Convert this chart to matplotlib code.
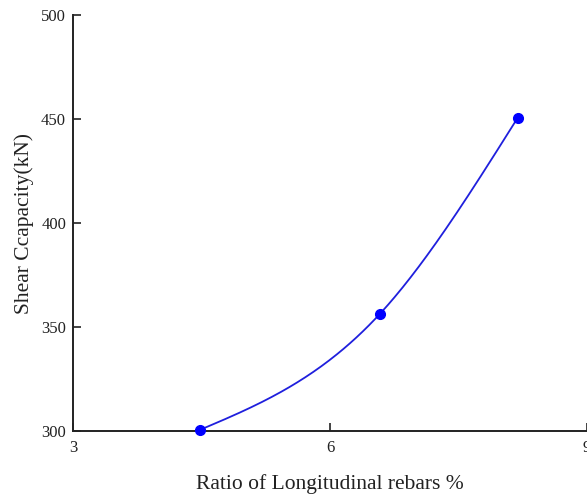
import numpy as np
import matplotlib
matplotlib.use("Agg")
import matplotlib.pyplot as plt

ratio = [4.48, 6.58, 8.19]
shear = [300.5, 356.2, 450.5]
x_ticks = [3, 6, 9]
y_ticks = [300, 350, 400, 450, 500]

def natural_spline(x, y, n=200):
    x = np.asarray(x, float); y = np.asarray(y, float)
    k = len(x)
    h = np.diff(x)
    A = np.zeros((k, k)); b = np.zeros(k)
    A[0, 0] = 1; A[-1, -1] = 1
    for i in range(1, k - 1):
        A[i, i - 1] = h[i - 1]
        A[i, i] = 2 * (h[i - 1] + h[i])
        A[i, i + 1] = h[i]
        b[i] = 6 * ((y[i + 1] - y[i]) / h[i] - (y[i] - y[i - 1]) / h[i - 1])
    M = np.linalg.solve(A, b)
    xs = np.linspace(x[0], x[-1], n)
    ys = np.empty_like(xs)
    for j, t in enumerate(xs):
        i = min(np.searchsorted(x, t, side="right") - 1, k - 2)
        hi = h[i]
        a = (x[i + 1] - t); c = (t - x[i])
        ys[j] = (M[i] * a**3 / (6 * hi) + M[i + 1] * c**3 / (6 * hi)
                 + (y[i] / hi - M[i] * hi / 6) * a + (y[i + 1] / hi - M[i + 1] * hi / 6) * c)
    return xs, ys

plt.rcParams['font.family'] = ['Liberation Serif', 'DejaVu Serif']

fig = plt.figure(figsize=(5.87, 4.95), dpi=100)
ax = fig.add_axes([73/587, 1 - 431/495, 1 - 73/587, (431 - 15)/495])

xs, ys = natural_spline(ratio, shear)
ax.plot(xs, ys, color='#1f1fdd', lw=1.3, zorder=2)
ax.plot(ratio, shear, 'o', color='#0000ff', ms=7, zorder=3, clip_on=False)

ax.set_xlim(3, 9)
ax.set_ylim(300, 500)
ax.set_xticks(x_ticks)
ax.set_yticks(y_ticks)
ax.tick_params(direction='in', length=6, width=1.2, labelsize=12, colors='#222222')
ax.tick_params(axis='x', pad=6.5)
ax.tick_params(axis='y', pad=5)
for s in ['top', 'right']:
    ax.spines[s].set_visible(False)
for s in ['left', 'bottom']:
    ax.spines[s].set_linewidth(1.4)
    ax.spines[s].set_color('#222222')

ax.set_xlabel('Ratio of Longitudinal rebars %', fontsize=15.5, color='#222222', labelpad=13)
ax.set_ylabel('Shear Ccapacity(kN)', fontsize=15.5, color='#222222', labelpad=5)

fig.savefig('out.png', dpi=100)
